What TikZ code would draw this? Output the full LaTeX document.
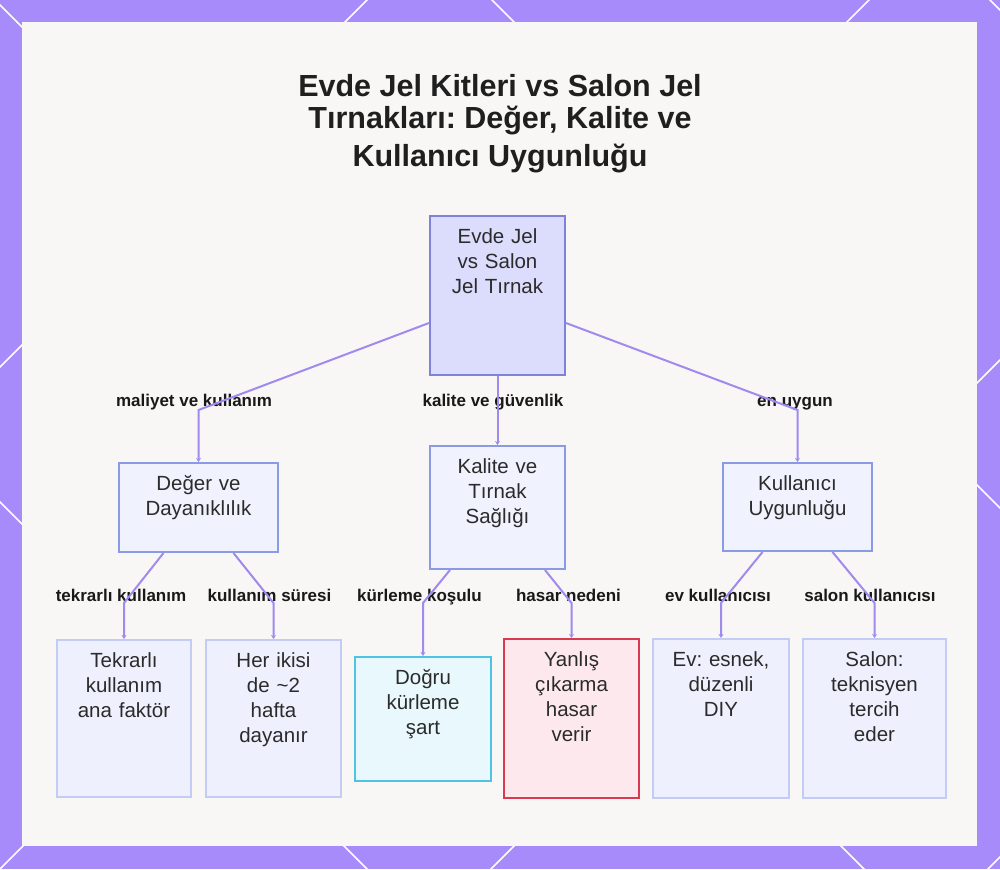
\documentclass[tikz,border=0pt]{standalone}
\usepackage{fontspec}
\setmainfont{Liberation Sans}
\frenchspacing
\usetikzlibrary{arrows.meta}
\definecolor{frame}{HTML}{A78BFA}
\definecolor{panel}{HTML}{F8F7F6}
\definecolor{edgec}{HTML}{A08AEE}
\definecolor{rootfill}{HTML}{DCDDFC}
\definecolor{rootdraw}{HTML}{7E82D9}
\definecolor{midfill}{HTML}{F0F3FE}
\definecolor{middraw}{HTML}{8A9BE6}
\definecolor{leaffill}{HTML}{EEF1FD}
\definecolor{leafdraw}{HTML}{C3CCF4}
\definecolor{cyanfill}{HTML}{E9F8FD}
\definecolor{cyandraw}{HTML}{4FC3E3}
\definecolor{redfill}{HTML}{FDE9ED}
\definecolor{reddraw}{HTML}{D83A4F}
\definecolor{txtc}{HTML}{2B2B2B}
\newcommand{\mkbox}[6]{%
  \node[#1, minimum width={(#5-#3)*1pt}, minimum height={(#6-#4)*1pt}] (#2) at ({(#3+#5)/2},{(#4+#6)/2}) {};}
\begin{document}
\begin{tikzpicture}[x=1pt,y=-1pt,
  boxbase/.style={draw, line width=2pt, inner sep=0pt},
  rootbox/.style={boxbase, fill=rootfill, draw=rootdraw},
  midbox/.style={boxbase, fill=midfill, draw=middraw},
  leafbox/.style={boxbase, fill=leaffill, draw=leafdraw},
  cyanbox/.style={boxbase, fill=cyanfill, draw=cyandraw},
  redbox/.style={boxbase, fill=redfill, draw=reddraw},
  boxtext/.style={anchor=base, align=center, text width=130pt, inner sep=0pt, text=txtc, font=\fontsize{20.5}{25}\selectfont\frenchspacing},
  lbl/.style={anchor=base, inner sep=0pt, text=black!90, font=\fontsize{17}{20}\selectfont\bfseries},
  ttl/.style={anchor=base, inner sep=0pt, text=black!88, font=\fontsize{30.5}{36}\selectfont\bfseries\frenchspacing},
  edge/.style={draw=edgec, line width=2pt, -{Stealth[length=4pt,width=5pt]}},
  lattice/.style={draw=white, line width=1.6pt},
]
\useasboundingbox (0,0) rectangle (1000,869);
% frame with lattice
\begin{scope}
  \clip (0,0) rectangle (1000,869);
  \fill[frame] (0,0) rectangle (1000,869);
  \foreach \c in {-502,-5,492,990} {\draw[lattice] (\c-900,-900) -- (\c+1900,1900);}
  \foreach \s in {367,869,1360,1857} {\draw[lattice] (\s+900,-900) -- (\s-1900,1900);}
\end{scope}
\fill[panel] (22,22) rectangle (977,846);

% title
\node[ttl] (t1) at (500,97) {Evde Jel Kitleri vs Salon Jel};
\node[ttl] (t2) at (500,129) {Tırnakları: Değer, Kalite ve};
\node[ttl] (t3) at (500,167) {Kullanıcı Uygunluğu};

% boxes
\mkbox{rootbox}{root}{430}{216}{565}{375}
\mkbox{midbox}{deger}{119}{463}{278}{552}
\mkbox{midbox}{kalite}{430}{446}{565}{569}
\mkbox{midbox}{kul}{723}{463}{872}{551}
\mkbox{leafbox}{tek}{57}{640}{191}{797}
\mkbox{leafbox}{her}{206}{640}{341}{797}
\mkbox{cyanbox}{dogru}{355}{657}{491}{781}
\mkbox{redbox}{yanlis}{504}{639}{639}{798}
\mkbox{leafbox}{ev}{653}{639}{789}{798}
\mkbox{leafbox}{salon}{803}{639}{946}{798}

% box texts
\node[boxtext] (root-t) at (497.5,243) {Evde Jel\\vs Salon\\Jel Tırnak};
\node[boxtext] (deger-t) at (198.5,490) {Değer ve\\Dayanıklılık};
\node[boxtext] (kalite-t) at (497.5,473) {Kalite ve\\Tırnak\\Sağlığı};
\node[boxtext] (kul-t) at (797.5,490) {Kullanıcı\\Uygunluğu};
\node[boxtext] (tek-t) at (124,667) {Tekrarlı\\kullanım\\ana faktör};
\node[boxtext] (her-t) at (273.5,667) {Her ikisi\\de \textasciitilde2\\hafta\\dayanır};
\node[boxtext] (dogru-t) at (423,684) {Doğru\\kürleme\\şart};
\node[boxtext] (yanlis-t) at (571.5,666) {Yanlış\\çıkarma\\hasar\\verir};
\node[boxtext] (ev-t) at (721,666) {Ev: esnek,\\düzenli\\DIY};
\node[boxtext] (salon-t) at (874.5,666) {Salon:\\teknisyen\\tercih\\eder};

% labels
\node[lbl] (l1) at (194,406) {maliyet ve kullanım};
\node[lbl] (l2) at (493,406) {kalite ve güvenlik};
\node[lbl] (l3) at (795,406) {en uygun};
\node[lbl] (l4) at (121,601) {tekrarlı kullanım};
\node[lbl] (l5) at (269.5,601) {kullanım süresi};
\node[lbl] (l6) at (419.5,601) {kürleme koşulu};
\node[lbl] (l7) at (568.5,601) {hasar nedeni};
\node[lbl] (l8) at (718,601) {ev kullanıcısı};
\node[lbl] (l9) at (870,601) {salon kullanıcısı};

% bend points
\coordinate (b1) at (198.5,410);
\coordinate (b3) at (797.5,410);
\coordinate (b4) at (124,603);
\coordinate (b5) at (273.5,603);
\coordinate (b6) at (423,603);
\coordinate (b7) at (571.5,603);
\coordinate (b8) at (721,603);
\coordinate (b9) at (874.5,603);

% edges
\draw[edge] ([yshift=-27.5pt]root.west) -- (b1) -- (deger.north);
\draw[edge] (root.south) -- (kalite.north);
\draw[edge] ([yshift=-27.5pt]root.east) -- (b3) -- (kul.north);
\draw[edge] ([xshift=-35pt]deger.south) -- (b4) -- (tek.north);
\draw[edge] ([xshift=35pt]deger.south) -- (b5) -- (her.north);
\draw[edge] ([xshift=-47.5pt]kalite.south) -- (b6) -- (dogru.north);
\draw[edge] ([xshift=47.5pt]kalite.south) -- (b7) -- (yanlis.north);
\draw[edge] ([xshift=-35pt]kul.south) -- (b8) -- (ev.north);
\draw[edge] ([xshift=35pt]kul.south) -- (b9) -- (salon.north);
\end{tikzpicture}
\end{document}
